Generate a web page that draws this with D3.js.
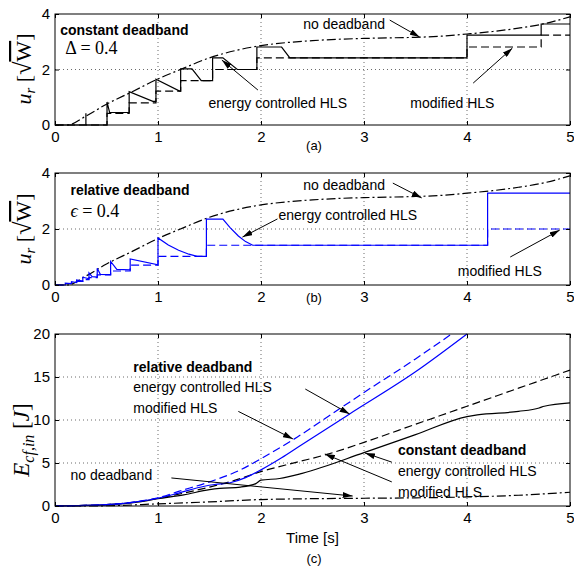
<!DOCTYPE html>
<html>
<head>
<meta charset="utf-8">
<script src="https://cdn.jsdelivr.net/npm/d3@7"></script>
<style>
  body { margin: 0; background: #fff; }
  text { font-family: "Liberation Sans", Arial, sans-serif; fill: #000; }
  .math { font-family: "Liberation Serif", "DejaVu Serif", serif; }
</style>
</head>
<body>
<div id="chart"></div>
<script>
// ---- data ----
const timeTicks = [0, 1, 2, 3, 4, 5];
const uTicks = [0, 2, 4];
const eTicks = [0, 5, 10, 15, 20];

// u_r without deadband (panels a and b)
const noDbT = [0, 0.12, 0.3, 0.5, 0.75, 1, 1.25, 1.5, 1.75, 2, 2.25, 2.5, 2.75, 3, 3.25, 3.5, 3.75, 4, 4.25, 4.5, 4.75, 5];
const noDbU = [0, 0, 0.32, 0.75, 1.2, 1.66, 2.05, 2.42, 2.68, 2.86, 2.97, 3.04, 3.09, 3.12, 3.14, 3.16, 3.2, 3.28, 3.37, 3.49, 3.65, 3.9];

// (a) constant deadband
const constEnergyT = [0, 0.3, 0.3, 0.3, 0.505, 0.505, 0.53, 0.72, 0.72, 0.95, 0.98, 0.98, 1.21, 1.22, 1.22, 1.33, 1.42, 1.53, 1.53, 1.63, 1.77, 1.96, 1.96, 2.2, 2.28, 4.0, 4.0, 4.72, 4.72, 5];
const constEnergyU = [0, 0, 0.42, 0, 0, 0.83, 0.45, 0.45, 1.2, 0.85, 0.85, 1.65, 1.22, 1.22, 2.02, 2.02, 1.6, 1.6, 2.42, 2.42, 2.0, 2.0, 2.81, 2.81, 2.42, 2.42, 3.24, 3.24, 3.64, 3.64];
const constModT = [0, 0.505, 0.72, 0.98, 1.22, 1.53, 1.96, 4.0, 4.72, 5];
const constModU = [0, 0.42, 0.8, 1.22, 1.6, 2.0, 2.42, 2.81, 3.24, 3.24];

// (b) relative deadband
const relEnergyT = [0, 0.1, 0.1, 0.16, 0.16, 0.21, 0.21, 0.27, 0.27, 0.33, 0.33, 0.36, 0.41, 0.41, 0.44, 0.54, 0.54, 0.6, 0.73, 0.73, 1.0, 1.0, 1.1, 1.2, 1.3, 1.38, 1.47, 1.47, 1.63, 1.7, 1.78, 1.85, 1.92, 4.2, 4.2, 5];
const relEnergyU = [0, 0, 0.07, 0.05, 0.12, 0.09, 0.18, 0.14, 0.28, 0.22, 0.43, 0.3, 0.28, 0.6, 0.38, 0.37, 0.84, 0.56, 0.54, 0.93, 0.72, 1.68, 1.43, 1.24, 1.1, 1.02, 1.02, 2.35, 2.35, 2.05, 1.75, 1.55, 1.42, 1.42, 3.28, 3.28];
const relModT = [0, 0.1, 0.16, 0.21, 0.27, 0.33, 0.41, 0.54, 0.73, 1.0, 1.47, 4.2, 5];
const relModU = [0, 0.05, 0.09, 0.13, 0.19, 0.26, 0.36, 0.5, 0.71, 1.02, 1.42, 2.0, 2.0];

// (c) input energy
const relModET = [0, 0.5, 0.8, 1.0, 1.2, 1.5, 1.8, 2.0, 2.35, 2.7, 3.0, 3.5, 3.85];
const relModE = [0, 0.15, 0.5, 0.95, 1.7, 2.8, 4.2, 5.5, 8.0, 10.8, 13.2, 17.1, 20];
const relEnET = [0, 0.5, 0.8, 1.0, 1.2, 1.45, 1.55, 1.7, 1.85, 2.0, 2.2, 2.38, 2.86, 3.5, 4.0];
const relEnE = [0, 0.15, 0.5, 0.9, 1.5, 2.3, 2.5, 2.7, 3.3, 4.2, 5.6, 7.0, 10.7, 15.6, 20];
const constModET = [0, 0.5, 0.8, 1.0, 1.25, 1.5, 1.75, 2.0, 2.35, 2.64, 3.0, 3.5, 4.0, 4.5, 5.0];
const constModE = [0, 0.15, 0.5, 0.9, 1.5, 2.2, 3.0, 4.0, 5.1, 6.0, 7.4, 9.5, 11.6, 13.7, 15.8];
const constEnET = [0, 0.5, 0.8, 1.0, 1.25, 1.5, 1.6, 1.8, 1.95, 2.0, 2.18, 2.4, 3.0, 3.5, 4.0, 4.1, 4.5, 4.7, 4.75, 5.0];
const constEnE = [0, 0.15, 0.45, 0.85, 1.3, 1.9, 2.05, 2.2, 2.6, 3.0, 3.2, 3.8, 6.2, 8.3, 10.4, 10.6, 11.0, 11.4, 11.6, 12.0];
const noDbET = [0, 0.5, 1, 1.5, 2, 2.5, 3, 3.5, 4, 4.5, 5];
const noDbE = [0, 0.03, 0.25, 0.48, 0.75, 0.85, 0.9, 0.95, 1.05, 1.25, 1.6];

// annotations, in data units of each panel
const labelsA = [
  {t: 0.05, v: 3.24, text: "constant deadband", bold: true},
  {t: 2.41, v: 3.46, text: "no deadband"},
  {t: 1.49, v: 0.61, text: "energy controlled HLS"},
  {t: 3.45, v: 0.61, text: "modified HLS"}
];
const arrowsA = [
  [3.25, 3.78, 3.54, 3.17],
  [1.97, 1.26, 1.62, 2.34],
  [4.06, 1.51, 4.44, 2.77]
];
const labelsB = [
  {t: 0.15, v: 3.21, text: "relative deadband", bold: true},
  {t: 2.41, v: 3.39, text: "no deadband"},
  {t: 2.17, v: 2.32, text: "energy controlled HLS"},
  {t: 3.91, v: 0.32, text: "modified HLS"}
];
const arrowsB = [
  [3.28, 3.64, 3.56, 3.11],
  [2.16, 2.36, 1.82, 1.71],
  [4.42, 1.0, 4.9, 1.96]
];
const labelsC = [
  {t: 0.76, v: 15.6, text: "relative deadband", bold: true},
  {t: 0.76, v: 13.3, text: "energy controlled HLS"},
  {t: 0.76, v: 10.8, text: "modified HLS"},
  {t: 3.33, v: 5.93, text: "constant deadband", bold: true},
  {t: 3.33, v: 3.49, text: "energy controlled HLS"},
  {t: 3.33, v: 1.05, text: "modified HLS"},
  {t: 0.15, v: 3.0, text: "no deadband"}
];
const arrowsC = [
  [1.78, 11.0, 2.31, 7.8],
  [2.43, 13.6, 2.86, 10.7],
  [3.27, 5.1, 3.01, 6.16],
  [3.27, 2.8, 2.62, 6.05],
  [1.13, 3.26, 2.89, 1.16]
];

const W = 574, H = 566;
const left = 55, right = 570;
const blue = "#0000ff";
const dashed = "8,4", dashDot = "9,3,2,3";

const svg = d3.select("#chart").append("svg")
    .attr("width", W).attr("height", H);

svg.append("defs").append("marker")
    .attr("id", "arrow")
    .attr("viewBox", "0 0 10 6")
    .attr("refX", 10).attr("refY", 3)
    .attr("markerWidth", 10).attr("markerHeight", 6)
    .attr("markerUnits", "userSpaceOnUse")
    .attr("orient", "auto")
  .append("path").attr("d", "M0,0L10,3L0,6Z").attr("fill", "#000");

var x = d3.scaleLinear().domain([0, 5]).range([left, right]);

function zip(ts, vs) { return ts.map((t, i) => [t, vs[i]]); }

function panel(top, bottom, yMax, yTicks) {
  var y = d3.scaleLinear().domain([0, yMax]).range([bottom, top]);
  var g = svg.append("g");

  // dotted grid
  g.selectAll(".gx").data(timeTicks.slice(1, -1)).join("line")
      .attr("x1", d => x(d)).attr("x2", d => x(d))
      .attr("y1", top).attr("y2", bottom)
      .attr("stroke", "#444").attr("stroke-width", 0.8).attr("stroke-dasharray", "1,3");
  g.selectAll(".gy").data(yTicks.slice(1, -1)).join("line")
      .attr("x1", left).attr("x2", right)
      .attr("y1", d => y(d)).attr("y2", d => y(d))
      .attr("stroke", "#444").attr("stroke-width", 0.8).attr("stroke-dasharray", "1,3");

  var plot = g.append("g");

  // axes with inward ticks on all four sides
  var ax = [
    g.append("g").attr("transform", "translate(0," + bottom + ")")
        .call(d3.axisBottom(x).tickValues(timeTicks).tickSize(-4).tickPadding(6).tickFormat(d3.format("d"))),
    g.append("g").attr("transform", "translate(0," + top + ")")
        .call(d3.axisTop(x).tickValues(timeTicks).tickSize(-4).tickFormat("")),
    g.append("g").attr("transform", "translate(" + left + ",0)")
        .call(d3.axisLeft(y).tickValues(yTicks).tickSize(-4).tickPadding(5).tickFormat(d3.format("d"))),
    g.append("g").attr("transform", "translate(" + right + ",0)")
        .call(d3.axisRight(y).tickValues(yTicks).tickSize(-4).tickFormat(""))
  ];
  ax.forEach(a => {
    a.select(".domain").remove();
    a.selectAll("line").attr("stroke", "#000");
    a.selectAll("text").attr("font-size", 15).attr("font-family", "Liberation Sans, Arial, sans-serif");
  });

  g.append("rect")
      .attr("x", left).attr("y", top)
      .attr("width", right - left).attr("height", bottom - top)
      .attr("fill", "none").attr("stroke", "#000").attr("stroke-width", 1);

  return {plot: plot, y: y, g: g};
}

function drawLine(p, ts, vs, color, dash, curve) {
  var line = d3.line()
      .x(d => x(d[0]))
      .y(d => p.y(d[1]))
      .curve(curve || d3.curveLinear);
  p.plot.append("path")
      .datum(zip(ts, vs))
      .attr("d", line)
      .attr("fill", "none")
      .attr("stroke", color)
      .attr("stroke-width", 1.2)
      .attr("stroke-dasharray", dash || null);
}

function annotate(p, labels, arrows) {
  p.g.selectAll(".lbl").data(labels).join("text")
      .attr("x", d => x(d.t)).attr("y", d => p.y(d.v))
      .attr("font-size", 14)
      .attr("font-weight", d => d.bold ? "bold" : "normal")
      .text(d => d.text);
  p.g.selectAll(".arr").data(arrows).join("line")
      .attr("x1", d => x(d[0])).attr("y1", d => p.y(d[1]))
      .attr("x2", d => x(d[2])).attr("y2", d => p.y(d[3]))
      .attr("stroke", "#000").attr("stroke-width", 1)
      .attr("marker-end", "url(#arrow)");
}

// ---- panel (a) ----
var pa = panel(14, 125, 4, uTicks);
drawLine(pa, noDbT, noDbU, "#000", dashDot, d3.curveMonotoneX);
drawLine(pa, constModT, constModU, "#000", dashed, d3.curveStepAfter);
drawLine(pa, constEnergyT, constEnergyU, "#000");
annotate(pa, labelsA, arrowsA);
pa.g.append("text").attr("class", "math")
    .attr("x", x(0.1)).attr("y", pa.y(2.56))
    .attr("font-size", 18).text("\u0394 = 0.4");

// ---- panel (b) ----
var pb = panel(173, 285, 4, uTicks);
drawLine(pb, noDbT, noDbU, "#000", dashDot, d3.curveMonotoneX);
drawLine(pb, relModT, relModU, blue, dashed, d3.curveStepAfter);
drawLine(pb, relEnergyT, relEnergyU, blue);
annotate(pb, labelsB, arrowsB);
var eps = pb.g.append("text").attr("class", "math")
    .attr("x", x(0.15)).attr("y", pb.y(2.43)).attr("font-size", 18);
eps.append("tspan").attr("font-style", "italic").text("\u03f5");
eps.append("tspan").text(" = 0.4");

// ---- panel (c) ----
var pc = panel(334, 506, 20, eTicks);
drawLine(pc, noDbET, noDbE, "#000", dashDot, d3.curveMonotoneX);
drawLine(pc, constModET, constModE, "#000", dashed, d3.curveMonotoneX);
drawLine(pc, constEnET, constEnE, "#000", null, d3.curveMonotoneX);
drawLine(pc, relModET, relModE, blue, dashed, d3.curveMonotoneX);
drawLine(pc, relEnET, relEnE, blue, null, d3.curveMonotoneX);
annotate(pc, labelsC, arrowsC);

// ---- axis titles and captions ----
function uLabel(cy) {
  var t = svg.append("text").attr("class", "math")
      .attr("transform", "translate(31," + cy + ") rotate(-90)")
      .attr("text-anchor", "middle").attr("font-size", 22);
  t.append("tspan").attr("font-style", "italic").text("u");
  t.append("tspan").attr("font-style", "italic").attr("font-size", 15).attr("dy", 4).text("r");
  t.append("tspan").attr("dy", -4).text(" [");
  t.append("tspan").attr("font-size", 24).text("\u221a");
  t.append("tspan").style("text-decoration", "overline").text("W");
  t.append("tspan").text("]");
}
uLabel(69);
uLabel(229);

var eLab = svg.append("text").attr("class", "math")
    .attr("transform", "translate(29,440) rotate(-90)")
    .attr("text-anchor", "middle").attr("font-size", 23);
eLab.append("tspan").attr("font-style", "italic").text("E");
eLab.append("tspan").attr("font-style", "italic").attr("font-size", 16).attr("dy", 5).text("cf,in");
eLab.append("tspan").attr("dy", -5).text(" [");
eLab.append("tspan").attr("font-style", "italic").text("J");
eLab.append("tspan").text("]");

svg.append("text").attr("x", (left + right) / 2).attr("y", 543)
    .attr("text-anchor", "middle").attr("font-size", 15).text("Time [s]");
[["(a)", 150], ["(b)", 302], ["(c)", 563]].forEach(c => {
  svg.append("text").attr("x", 314).attr("y", c[1])
      .attr("text-anchor", "middle").attr("font-size", 13).text(c[0]);
});
</script>
</body>
</html>
